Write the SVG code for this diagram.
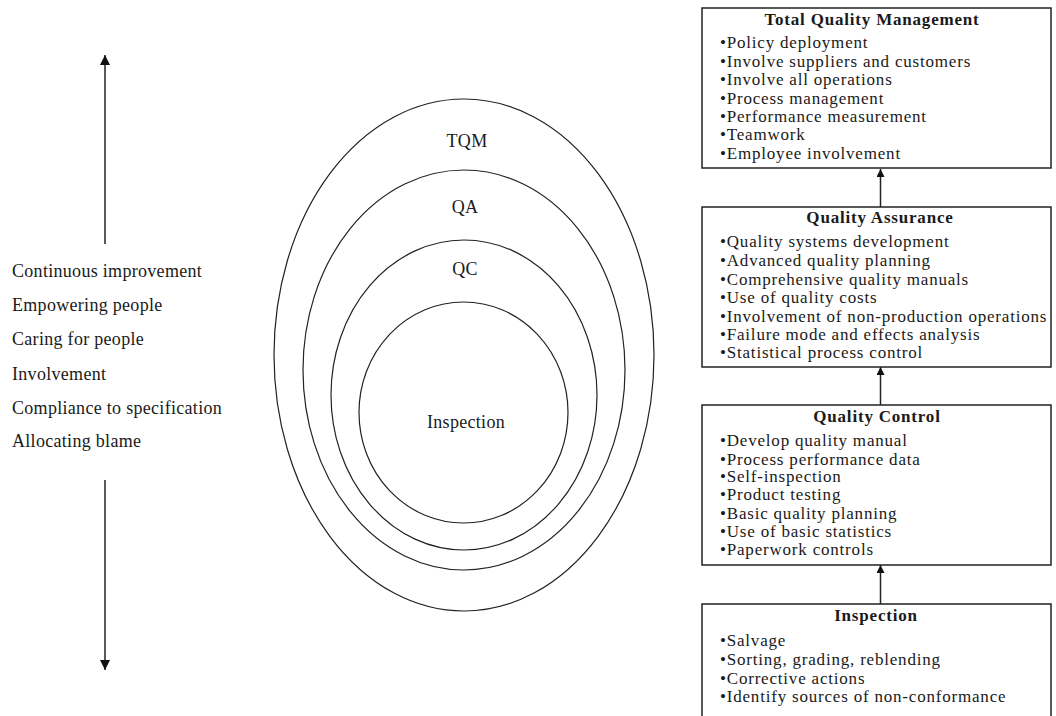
<svg xmlns="http://www.w3.org/2000/svg" width="1056" height="716" viewBox="0 0 1056 716">
  <style>
    text { font-family: "Liberation Serif", "Times New Roman", serif; fill: #1a1a1a; }
    .side { font-size: 18px; letter-spacing: 0.3px; }
    .ring-label { font-size: 18px; text-anchor: middle; letter-spacing: 0.3px; }
    .title { font-size: 17px; font-weight: bold; text-anchor: middle; letter-spacing: 0.8px; }
    .item { font-size: 17px; letter-spacing: 0.8px; }
    .ring { fill: none; stroke: #222; stroke-width: 1.2; }
    .box { fill: #fff; stroke: #222; stroke-width: 1.5; }
    .link { stroke: #222; stroke-width: 1.5; fill: none; }
  </style>
  <defs>
    <marker id="head" viewBox="0 0 10 10" refX="10" refY="5" markerWidth="10" markerHeight="10" markerUnits="userSpaceOnUse" orient="auto">
      <path d="M0,0 L10,5 L0,10 Z" fill="#111"/>
    </marker>
    <marker id="head-small" viewBox="0 0 10 10" refX="10" refY="5" markerWidth="8" markerHeight="8" markerUnits="userSpaceOnUse" orient="auto">
      <path d="M0,0 L10,5 L0,10 Z" fill="#111"/>
    </marker>
  </defs>
  <rect width="1056" height="716" fill="#fff"/>

  <!-- scale of attitudes, from blame up to continuous improvement -->
  <g id="attitude-scale">
    <text class="side" x="12" y="277">Continuous improvement</text>
    <text class="side" x="12" y="311">Empowering people</text>
    <text class="side" x="12" y="345">Caring for people</text>
    <text class="side" x="12" y="380">Involvement</text>
    <text class="side" x="12" y="414">Compliance to specification</text>
    <text class="side" x="12" y="447">Allocating blame</text>
  </g>

  <!-- nested rings -->
  <g id="ring-tqm">
    <ellipse class="ring" cx="464" cy="355" rx="190" ry="256"/>
    <text class="ring-label" x="467" y="147">TQM</text>
  </g>
  <g id="ring-qa">
    <ellipse class="ring" cx="464" cy="370" rx="161" ry="200"/>
    <text class="ring-label" x="465" y="213">QA</text>
  </g>
  <g id="ring-qc">
    <ellipse class="ring" cx="464" cy="395" rx="133" ry="155"/>
    <text class="ring-label" x="465" y="275">QC</text>
  </g>
  <g id="ring-inspection">
    <ellipse class="ring" cx="463.5" cy="412.5" rx="104.5" ry="110.5"/>
    <text class="ring-label" x="466" y="428">Inspection</text>
  </g>

  <!-- stages, bottom to top -->
  <g id="box-tqm">
    <rect class="box" x="702" y="8" width="349" height="160"/>
    <text class="title" x="872" y="25">Total Quality Management</text>
    <text class="item" x="720" y="48">•Policy deployment</text>
    <text class="item" x="720" y="67">•Involve suppliers and customers</text>
    <text class="item" x="720" y="85">•Involve all operations</text>
    <text class="item" x="720" y="104">•Process management</text>
    <text class="item" x="720" y="122">•Performance measurement</text>
    <text class="item" x="720" y="140">•Teamwork</text>
    <text class="item" x="720" y="159">•Employee involvement</text>
  </g>
  <g id="box-qa">
    <rect class="box" x="702" y="207" width="349" height="160"/>
    <text class="title" x="880" y="223">Quality Assurance</text>
    <text class="item" x="720" y="247">•Quality systems development</text>
    <text class="item" x="720" y="266">•Advanced quality planning</text>
    <text class="item" x="720" y="285">•Comprehensive quality manuals</text>
    <text class="item" x="720" y="303">•Use of quality costs</text>
    <text class="item" x="720" y="322">•Involvement of non-production operations</text>
    <text class="item" x="720" y="340">•Failure mode and effects analysis</text>
    <text class="item" x="720" y="358">•Statistical process control</text>
  </g>
  <g id="box-qc">
    <rect class="box" x="702" y="405" width="349" height="160"/>
    <text class="title" x="877" y="422">Quality Control</text>
    <text class="item" x="720" y="446">•Develop quality manual</text>
    <text class="item" x="720" y="465">•Process performance data</text>
    <text class="item" x="720" y="482">•Self-inspection</text>
    <text class="item" x="720" y="500">•Product testing</text>
    <text class="item" x="720" y="519">•Basic quality planning</text>
    <text class="item" x="720" y="537">•Use of basic statistics</text>
    <text class="item" x="720" y="555">•Paperwork controls</text>
  </g>
  <g id="box-inspection">
    <rect class="box" x="702" y="604" width="349" height="116"/>
    <text class="title" x="876" y="621">Inspection</text>
    <text class="item" x="720" y="646">•Salvage</text>
    <text class="item" x="720" y="665">•Sorting, grading, reblending</text>
    <text class="item" x="720" y="684">•Corrective actions</text>
    <text class="item" x="720" y="702">•Identify sources of non-conformance</text>
  </g>

  <g id="connectors">
    <line class="link" x1="105" y1="244" x2="105" y2="55" marker-end="url(#head)"/>
    <line class="link" x1="105" y1="480" x2="105" y2="670" marker-end="url(#head)"/>
    <line class="link" x1="880.5" y1="207" x2="880.5" y2="169" marker-end="url(#head-small)"/>
    <line class="link" x1="880.5" y1="405" x2="880.5" y2="367" marker-end="url(#head-small)"/>
    <line class="link" x1="880.5" y1="604" x2="880.5" y2="565" marker-end="url(#head-small)"/>
  </g>
</svg>
